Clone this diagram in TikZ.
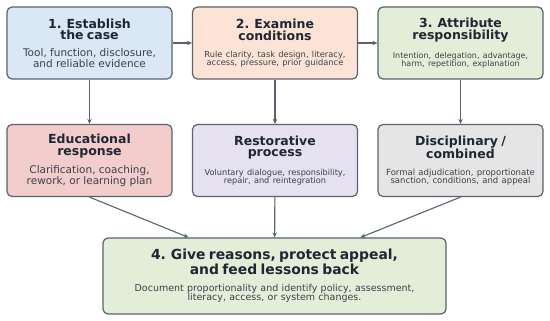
\documentclass[tikz,border=0pt]{standalone}
\usepackage{fontspec}
\setmainfont{DejaVu Sans}
\usepackage{xcolor}
\usetikzlibrary{arrows.meta, calc}

\definecolor{edgegray}{HTML}{5A636D}
\definecolor{titleink}{HTML}{1E2733}
\definecolor{subink}{HTML}{3A414B}
\definecolor{caseblue}{HTML}{DAE7F4}
\definecolor{condpeach}{HTML}{FCE3D6}
\definecolor{attrgreen}{HTML}{E3EED9}
\definecolor{edupink}{HTML}{F3CDCC}
\definecolor{restlilac}{HTML}{E6E1F0}
\definecolor{discgray}{HTML}{E5E5E5}

\newcommand{\heading}[2]{{\fontsize{#1}{11.8}\selectfont\bfseries #2\par}}
\newcommand{\detail}[2]{\vspace{\dimexpr 17pt-#1pt\relax}{\color{subink}\fontsize{#1}{#1}\selectfont #2\par}}

\tikzset{
  stage/.style={draw=edgegray, line width=1.2pt, rounded corners=5pt,
    text width=160pt, inner xsep=2.5pt, minimum height=72pt,
    align=center, text=titleink},
  flow/.style={-{Stealth[length=5pt, width=4.5pt]}, draw=edgegray, line width=1.1pt},
}

\begin{document}
\begin{tikzpicture}[x=1pt, y=1pt]
\useasboundingbox (0,0) rectangle (550,-321);

% ============= TOP: the three steps =============
\node[stage, fill=caseblue] (establish) at (89.5,-43)
  {\heading{12.5}{1. Establish\\the case}\detail{10.5}{Tool, function, disclosure,\\and reliable evidence}};
\node[stage, fill=condpeach] (examine) at (275,-43)
  {\heading{12.5}{2. Examine\\conditions}\detail{8.3}{Rule clarity, task design, literacy,\\access, pressure, prior guidance}};
\node[stage, fill=attrgreen] (attribute) at (460.5,-43)
  {\heading{12.5}{3. Attribute\\responsibility}\detail{8}{Intention, delegation, advantage,\\harm, repetition, explanation}};

% ============= MIDDLE: the three responses =============
\node[stage, fill=edupink] (educ) at (89.5,-160.5)
  {\heading{12.5}{Educational\\response}\detail{10.5}{Clarification, coaching,\\rework, or learning plan}};
\node[stage, fill=restlilac] (restor) at (275,-160.5)
  {\heading{12.5}{Restorative\\process}\detail{8.2}{Voluntary dialogue, responsibility,\\repair, and reintegration}};
\node[stage, fill=discgray] (discip) at (460.5,-160.5)
  {\heading{12.5}{Disciplinary /\\combined}\detail{8.5}{Formal adjudication, proportionate\\sanction, conditions, and appeal}};

% ============= BOTTOM: closing step =============
\node[stage, fill=attrgreen, text width=338pt, minimum height=76pt] (reasons) at (274.5,-276)
  {\heading{13.9}{4. Give reasons, protect appeal,\\and feed lessons back}\detail{9.5}{Document proportionality and identify policy, assessment,\\literacy, access, or system changes.}};

% connectors
\draw[flow] (establish) -- (examine);
\draw[flow] (examine) -- (attribute);
\draw[flow] (establish) -- (educ);
\draw[flow] (examine) -- (restor);
\draw[flow] (attribute) -- (discip);
\draw[flow] (educ.south) -- ($(reasons.north west)!0.25!(reasons.north east)$);
\draw[flow] (restor) -- (reasons);
\draw[flow] (discip.south) -- ($(reasons.north west)!0.75!(reasons.north east)$);
\end{tikzpicture}
\end{document}
